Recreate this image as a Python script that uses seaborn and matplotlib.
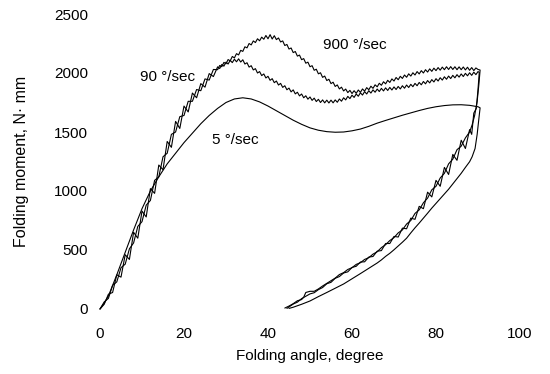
import matplotlib
matplotlib.use("Agg")
import matplotlib.pyplot as plt
import seaborn as sns
import pandas as pd
import numpy as np

# ---- data ----
# 5 deg/sec (smooth) loading
slow_load_x = [0, 1, 2, 4, 6, 8, 10, 12, 14, 16, 18, 20, 22, 24, 26, 28, 30, 32, 34, 36, 38, 40,
               42, 44, 46, 48, 50, 52, 54, 56, 58, 60, 62, 64, 66, 68, 70, 72, 74, 76, 78, 80,
               82, 84, 86, 88, 90]
slow_load_y = [0, 50, 110, 290, 480, 670, 850, 1000, 1120, 1230, 1320, 1410, 1490, 1570, 1640,
               1700, 1750, 1780, 1790, 1780, 1755, 1720, 1680, 1640, 1600, 1565, 1535, 1515, 1503,
               1498, 1500, 1510, 1525, 1548, 1575, 1598, 1620, 1642, 1662, 1682, 1700, 1714,
               1724, 1730, 1731, 1726, 1714]
# 5 deg/sec unloading
slow_unload_x = [90.5, 90.2, 89.8, 89.3, 88.6, 88, 87, 86, 85, 84, 83, 82, 81, 80, 79, 78, 77,
                 76, 75, 74, 73, 72, 71, 70, 69, 68, 67, 66, 64, 62, 60, 58, 56, 54, 52, 50, 48,
                 46, 45]
slow_unload_y = [1705, 1610, 1480, 1360, 1290, 1248, 1200, 1150, 1105, 1060, 1015, 975, 935, 895,
                 855, 812, 770, 728, 688, 645, 600, 566, 534, 502, 472, 446, 416, 390, 345, 300,
                 256, 212, 176, 140, 105, 68, 40, 15, 5]

# noisy curves: steep part at 1 degree steps (0..27), plateau at 0.5 degree steps (28..90)
steep_x = list(range(0, 28))
plateau_x = list(np.arange(28, 90.01, 0.5))

# 90 deg/sec loading
mid_steep_y = [0, 40, 125, 140, 290, 270, 460, 420, 650, 600, 830, 780, 1020, 980, 1220, 1180,
               1420, 1370, 1590, 1530, 1720, 1670, 1830, 1790, 1910, 1880, 1995, 1970]
mid_plateau_y = [2052, 2038, 2072, 2058, 2092, 2076, 2107, 2088, 2117, 2095, 2120, 2093, 2112,
                 2076, 2087, 2050, 2062, 2026, 2037, 2000, 2012, 1978, 1992, 1958, 1972, 1938,
                 1952, 1918, 1932, 1898, 1912, 1878, 1892, 1858, 1872, 1840, 1857, 1823, 1837,
                 1806, 1822, 1790, 1807, 1778, 1797, 1768, 1787, 1758, 1777, 1750, 1772, 1747,
                 1770, 1746, 1770, 1747, 1772, 1752, 1780, 1761, 1790, 1772, 1802, 1783, 1812,
                 1793, 1822, 1803, 1832, 1813, 1842, 1822, 1850, 1830, 1857, 1837, 1864, 1843,
                 1870, 1848, 1874, 1852, 1878, 1856, 1882, 1860, 1886, 1865, 1892, 1871, 1898,
                 1877, 1904, 1884, 1912, 1892, 1920, 1900, 1928, 1908, 1936, 1916, 1944, 1924,
                 1952, 1932, 1960, 1940, 1968, 1947, 1974, 1953, 1980, 1959, 1986, 1965, 1992,
                 1970, 1997, 1976, 2002, 1980, 2007, 1986, 2012]
# 90 deg/sec unloading
mid_unload_x = [90.3, 90.0, 89.6, 89, 88.5, 88, 87, 86, 85, 84, 83, 82, 81, 80, 79, 78, 77, 76,
                75, 74, 73, 72, 71, 70, 69, 68, 67, 66, 65, 64, 63, 62, 61, 60, 59, 58, 57, 56,
                55, 54, 53, 52, 51, 50, 49, 48, 47, 46, 45, 44.5]
mid_unload_y = [2005, 1860, 1700, 1660, 1480, 1520, 1360, 1430, 1260, 1310, 1140, 1200, 1040,
                1090, 950, 990, 850, 870, 760, 770, 680, 685, 610, 615, 555, 555, 495, 490, 445,
                440, 400, 398, 362, 352, 315, 305, 275, 260, 226, 214, 182, 164, 138, 128, 108,
                88, 58, 42, 18, 5]

# 900 deg/sec loading
fast_steep_y = [0, 60, 90, 200, 230, 350, 380, 510, 560, 700, 740, 880, 920, 1090, 1120, 1290,
                1320, 1480, 1500, 1630, 1640, 1760, 1760, 1860, 1850, 1950, 1940, 2030]
fast_plateau_y = [2028, 2064, 2053, 2090, 2078, 2114, 2103, 2140, 2128, 2164, 2153, 2192, 2183,
                  2222, 2213, 2250, 2238, 2272, 2258, 2290, 2273, 2304, 2286, 2318, 2290, 2325,
                  2288, 2316, 2283, 2297, 2263, 2272, 2233, 2242, 2203, 2212, 2173, 2182, 2143,
                  2152, 2113, 2122, 2083, 2092, 2053, 2062, 2023, 2032, 1993, 2002, 1963, 1974,
                  1936, 1947, 1910, 1922, 1886, 1899, 1865, 1880, 1848, 1864, 1834, 1853, 1826,
                  1850, 1828, 1856, 1836, 1865, 1846, 1876, 1858, 1888, 1870, 1900, 1883, 1913,
                  1896, 1926, 1908, 1938, 1920, 1950, 1932, 1962, 1943, 1972, 1954, 1983, 1964,
                  1993, 1974, 2002, 1983, 2012, 1992, 2020, 2000, 2028, 2008, 2035, 2014, 2041,
                  2020, 2046, 2024, 2050, 2028, 2053, 2030, 2054, 2030, 2053, 2028, 2052, 2028,
                  2051, 2026, 2049, 2023, 2046, 2020, 2043, 2030]
# 900 deg/sec unloading
fast_unload_x = [90.5, 90.2, 89.8, 89.2, 88.6, 88, 87, 86, 85, 84, 83, 82, 81, 80, 79, 78, 77,
                 76, 75, 74, 73, 72, 71, 70, 69, 68, 67, 66, 65, 64, 63, 62, 61, 60, 59, 58, 57,
                 56, 55, 54, 53, 52, 51, 50, 49, 48.5, 48, 47, 46, 45, 44]
fast_unload_y = [2025, 1900, 1760, 1640, 1560, 1500, 1450, 1380, 1350, 1270, 1230, 1150, 1110,
                 1040, 1010, 940, 900, 840, 810, 750, 720, 670, 645, 605, 580, 545, 520, 485, 465,
                 435, 420, 392, 378, 350, 335, 308, 292, 262, 240, 218, 195, 170, 150, 150, 140,
                 100, 80, 70, 45, 25, 8]

curve_labels = ["900 °/sec", "90 °/sec", "5 °/sec"]
label_pos_x = [53.0, 9.5, 26.7]
label_pos_y = [2235, 1965, 1430]

x_ticks = [0, 20, 40, 60, 80, 100]
y_ticks = [0, 500, 1000, 1500, 2000, 2500]

assert len(mid_plateau_y) == len(plateau_x) == len(fast_plateau_y)
assert len(mid_steep_y) == len(steep_x) == len(fast_steep_y)

# ---- build long table ----
rows = []
def add(name, xs, ys, start):
    for i, (a, b) in enumerate(zip(xs, ys)):
        rows.append({"curve": name, "order": start + i, "angle": a, "moment": b})

add("5", slow_load_x, slow_load_y, 0)
add("5", slow_unload_x, slow_unload_y, 1000)
add("90", steep_x + plateau_x, mid_steep_y + mid_plateau_y, 0)
add("90", mid_unload_x, mid_unload_y, 1000)
add("900", steep_x + plateau_x, fast_steep_y + fast_plateau_y, 0)
add("900", fast_unload_x, fast_unload_y, 1000)
df = pd.DataFrame(rows).sort_values(["curve", "order"]).reset_index(drop=True)

sns.set_style("white")
plt.rcParams["font.family"] = ["Liberation Sans", "DejaVu Sans"]

fig = plt.figure(figsize=(5.5, 3.74), dpi=100)
ax = fig.add_axes([100 / 550, 1 - 309 / 374, 420 / 550, 295 / 374])

sns.lineplot(data=df, x="angle", y="moment", units="curve", estimator=None, sort=False,
             color="black", linewidth=0.8, ax=ax, legend=False)
for ln in ax.get_lines():
    ln.set_clip_on(False)

ax.set_xlim(0, 100)
ax.set_ylim(0, 2500)
ax.set_xticks(x_ticks)
ax.set_yticks(y_ticks)
ax.set_xticklabels([str(t) for t in x_ticks])
ax.set_yticklabels([str(t) for t in y_ticks])
ax.tick_params(axis="x", length=0, pad=13, labelsize=11, colors="black")
ax.tick_params(axis="y", length=0, pad=8.5, labelsize=11, colors="black")
for s in ax.spines.values():
    s.set_visible(False)
ax.grid(False)

ax.set_xlabel("Folding angle, degree", fontsize=11, labelpad=6, color="black")
ax.set_ylabel("Folding moment, N· mm", fontsize=11.5, labelpad=18, color="black")

for t, x, y in zip(curve_labels, label_pos_x, label_pos_y):
    ax.text(x, y, t, fontsize=11, va="center", ha="left", color="black")

fig.savefig("out.png", dpi=100)
